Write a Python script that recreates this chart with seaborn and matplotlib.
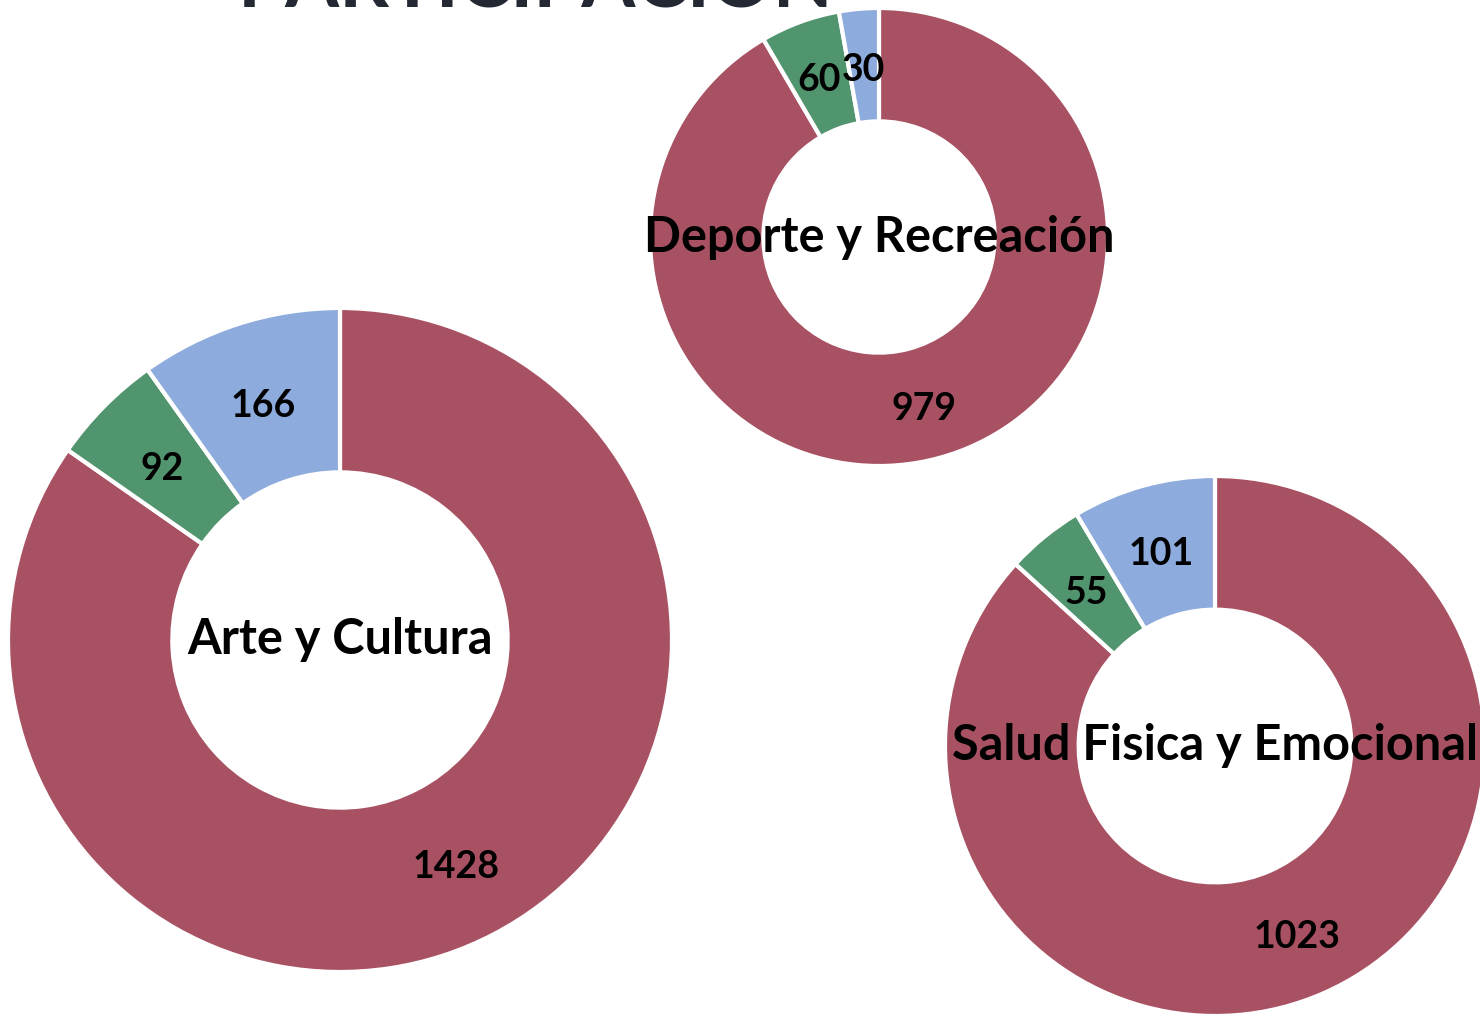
import matplotlib
matplotlib.use("Agg")
import matplotlib.pyplot as plt
import seaborn as sns

# data: participants per area (red, green, blue segments)
areas = ["Arte y Cultura", "Deporte y Recreación", "Salud Fisica y Emocional"]
arte = [1428, 92, 166]
deporte = [979, 60, 30]
salud = [1023, 55, 101]

colors = sns.color_palette(["#A85163", "#51956F", "#8EABDD"])

sns.set_theme(style="white")
plt.rcParams["font.family"] = ["Lato", "DejaVu Sans"]

fig = plt.figure(figsize=(14.8, 10.16), dpi=100)
ax = fig.add_axes([0, 0, 1, 1])
ax.set_xlim(0, 1480)
ax.set_ylim(0, 1016)
ax.set_aspect("equal")
ax.axis("off")

# (values, title, center x, center y, radius)
donuts = [
    (arte, areas[0], 340, 1016 - 640, 332),
    (deporte, areas[1], 879, 1016 - 237, 229),
    (salud, areas[2], 1215, 1016 - 746, 270),
]

for vals, title, cx, cy, r in donuts:
    wedges, texts = ax.pie(
        vals, colors=colors, startangle=90, counterclock=False,
        center=(cx, cy), radius=r, labels=[str(v) for v in vals],
        labeldistance=0.755,
        wedgeprops=dict(width=r * 0.495, edgecolor="white", linewidth=3),
        textprops=dict(fontsize=27, fontweight="bold", color="black"),
    )
    for t in texts:
        t.set_ha("center")
        t.set_va("center")
        x, y = t.get_position()
        t.set_position((x, y - 5))
    ax.text(cx, cy, title, fontsize=35, fontweight="bold", color="black",
            ha="center", va="center", zorder=5)

ax.set_xlim(0, 1480)
ax.set_ylim(0, 1016)

# slide title, mostly cut off at the top edge
fig.text(0.362, 0.9925, "PARTICIPACIÓN", fontsize=56, fontweight="bold",
         color="#232833", ha="center", va="baseline")

fig.savefig("out.png", dpi=100)
